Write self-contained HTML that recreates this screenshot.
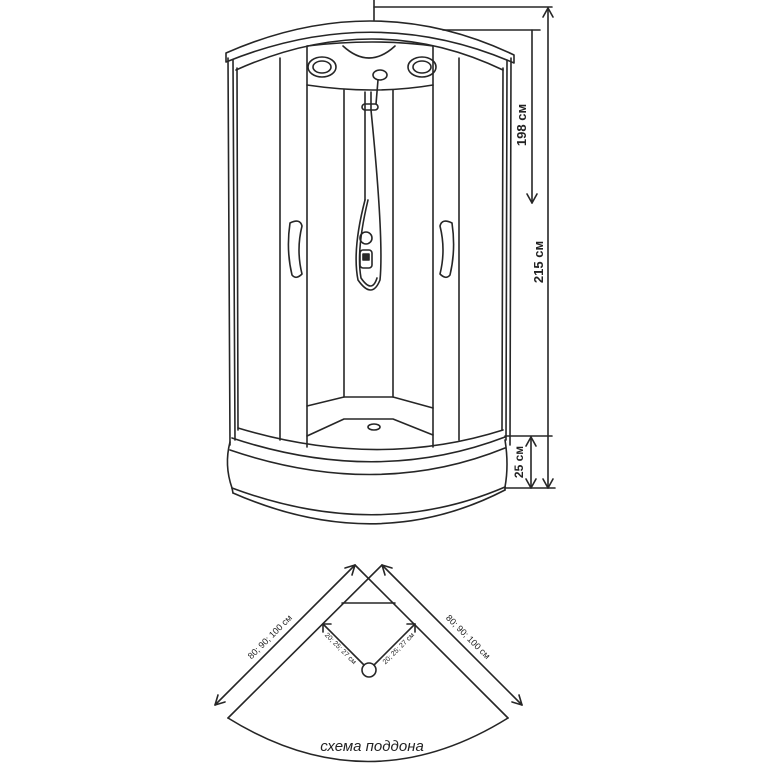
<!DOCTYPE html>
<html><head><meta charset="utf-8"><style>
html,body{margin:0;padding:0;background:#fff;}
svg{display:block;}
text{font-family:"Liberation Sans",sans-serif;fill:#222;}
</style></head><body>
<svg width="768" height="768" viewBox="0 0 768 768" xmlns="http://www.w3.org/2000/svg">
<g fill="none" stroke="#262626" stroke-width="1.6" stroke-linecap="round" stroke-linejoin="round">
<line x1="374" y1="0" x2="374" y2="20"/>
<line x1="374" y1="7" x2="552" y2="7"/>
<line x1="548" y1="8" x2="548" y2="488"/>
<polyline points="543,17 548,8 553,17"/>
<polyline points="543,479 548,488 553,479"/>
<line x1="443" y1="30" x2="540" y2="30"/>
<line x1="532" y1="30" x2="532" y2="203"/>
<polyline points="527,194 532,203 537,194"/>
<line x1="505" y1="436" x2="552" y2="436"/>
<line x1="505" y1="488" x2="555" y2="488"/>
<line x1="531" y1="437" x2="531" y2="488"/>
<polyline points="526,446 531,437 536,446"/>
<polyline points="526,479 531,488 536,479"/>
<path d="M226,53 Q374,-12 514,55 L514,63 Q374,2 226,62 Z"/>
<path d="M236,70 Q374,8 503,70"/>
<path d="M307,46 Q374,38 433,46"/>
<path d="M343,46 Q369,70 395,46"/>
<path d="M307,85 Q374,95 433,85"/>
<ellipse cx="322" cy="67" rx="14" ry="10"/>
<ellipse cx="322" cy="67" rx="9" ry="6"/>
<ellipse cx="422" cy="67" rx="14" ry="10"/>
<ellipse cx="422" cy="67" rx="9" ry="6"/>
<ellipse cx="380" cy="75" rx="7" ry="5"/>
<line x1="228" y1="58" x2="230" y2="445"/>
<line x1="233" y1="60" x2="235" y2="440"/>
<line x1="237" y1="68" x2="238" y2="430"/>
<line x1="280" y1="58" x2="280" y2="440"/>
<line x1="307" y1="46" x2="307" y2="447"/>
<line x1="344" y1="90" x2="344" y2="397"/>
<line x1="393" y1="90" x2="393" y2="397"/>
<line x1="433" y1="46" x2="433" y2="447"/>
<line x1="459" y1="58" x2="459" y2="440"/>
<line x1="503" y1="68" x2="502" y2="430"/>
<line x1="507" y1="60" x2="506" y2="440"/>
<line x1="511" y1="58" x2="510" y2="445"/>
<line x1="365" y1="92" x2="365" y2="200"/>
<line x1="371" y1="92" x2="371" y2="110"/>
<rect x="362" y="104" width="16" height="6" rx="3"/>
<line x1="378" y1="80" x2="376" y2="104"/>
<path d="M365,200 Q352,250 358,280 Q372,300 380,280 Q384,240 371,110"/>
<path d="M368,200 Q356,250 361,278 Q372,294 377,278"/>
<circle cx="366" cy="238" r="6"/>
<rect x="360" y="250" width="12" height="18" rx="3"/>
<rect x="363" y="254" width="6" height="6" fill="#2a2a2a"/>
<path d="M290,223 Q300,218 302,226 Q296,250 302,274 Q296,280 292,275 Q286,250 290,223 Z"/>
<path d="M452,223 Q442,218 440,226 Q446,250 440,274 Q446,280 450,275 Q456,250 452,223 Z"/>
<path d="M307,406 L344,397 L393,397 L433,408"/>
<path d="M307,436 L344,419 L393,419 L433,435"/>
<ellipse cx="374" cy="427" rx="6" ry="3"/>
<path d="M238,428 Q377,470 503,430"/>
<path d="M232,438 Q377,486 505,437"/>
<path d="M230,450 Q377,500 505,448"/>
<path d="M230,442 Q224,465 232,488"/>
<path d="M505,440 Q509,465 505,487"/>
<path d="M232,488 Q377,542 505,487"/>
<path d="M233,493 Q377,556 505,490"/>
<line x1="232" y1="488" x2="233" y2="493"/>
<line x1="505" y1="487" x2="505" y2="490"/>
<line x1="228" y1="718" x2="382" y2="565"/>
<line x1="355" y1="565" x2="508" y2="718"/>
<line x1="342" y1="603" x2="395" y2="603"/>
<path d="M228,718 Q368,805 508,718"/>
<line x1="215" y1="705" x2="355" y2="565"/>
<polyline points="345,568 355,565 352,575"/>
<polyline points="218,695 215,705 225,702"/>
<line x1="382" y1="565" x2="522" y2="705"/>
<polyline points="385,575 382,565 392,568"/>
<polyline points="512,702 522,705 519,695"/>
<circle cx="369" cy="670" r="7"/>
<line x1="364" y1="665" x2="323" y2="624"/>
<polyline points="323,632 323,624 331,624"/>
<line x1="374" y1="665" x2="415" y2="624"/>
<polyline points="407,624 415,624 415,632"/>
</g>
<g font-weight="bold" font-size="13">
<text transform="translate(526,125) rotate(-90)" text-anchor="middle">198 см</text>
<text transform="translate(543,262) rotate(-90)" text-anchor="middle">215 см</text>
<text transform="translate(523,462) rotate(-90)" text-anchor="middle" font-size="12">25 см</text>
</g>
<g font-size="9">
<text transform="translate(272,639) rotate(-45)" text-anchor="middle">80; 90; 100 см</text>
<text transform="translate(466,639) rotate(45)" text-anchor="middle">80; 90; 100 см</text>
<text transform="translate(339,650) rotate(45)" text-anchor="middle" font-size="7">20; 25; 27 см</text>
<text transform="translate(400,650) rotate(-45)" text-anchor="middle" font-size="7">20; 25; 27 см</text>
</g>
<text x="372" y="751" text-anchor="middle" font-size="15" font-style="italic">схема поддона</text>
</svg>
</body></html>
